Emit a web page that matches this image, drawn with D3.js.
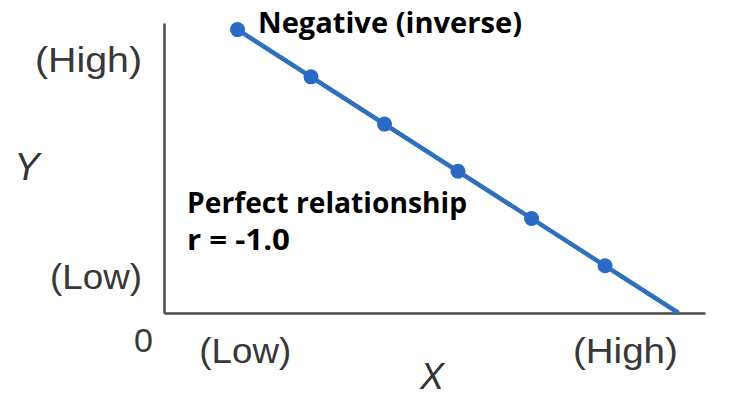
<!DOCTYPE html>
<html>
<head>
<meta charset="utf-8">
<script src="https://cdn.jsdelivr.net/npm/d3@7"></script>
<style>
  html, body { margin: 0; padding: 0; background: #fff; }
  svg { display: block; }
</style>
</head>
<body>
<div id="chart"></div>
<script>
// ---- data ----
const xValues = [1, 2, 3, 4, 5, 6];
const yValues = [6, 5, 4, 3, 2, 1];
const lineX = [1, 7];
const lineY = [6, 0];
const xTickValues = [1.1, 6.27];
const xTickLabels = ["(Low)", "(High)"];
const yTickValues = [0.78, 5.36];
const yTickLabels = ["(Low)", "(High)"];
const originLabel = "0";
const xAxisTitle = "X";
const yAxisTitle = "Y";
const titleText = "Negative (inverse)";
const noteLines = ["Perfect relationship", "r = -1.0"];

// ---- layout ----
const W = 730, H = 398;
const svg = d3.select("#chart").append("svg").attr("width", W).attr("height", H);

const x = d3.scaleLinear().domain([0, 7.36]).range([164, 705]);
const y = d3.scaleLinear().domain([0, 6.14]).range([313, 23]);

const labelFont = "'Helvetica Neue', 'Liberation Sans', Arial, sans-serif";
const boldFont = "'Open Sans', 'Noto Sans', sans-serif";
const axisColor = "#4a4a4a";
const labelColor = "#383838";

// x axis
const gx = svg.append("g").attr("transform", `translate(0,${y(0)})`)
  .call(d3.axisBottom(x).tickValues(xTickValues)
    .tickFormat((d, i) => xTickLabels[i]).tickSize(0).tickSizeOuter(0));
gx.select(".domain").attr("stroke", axisColor).attr("stroke-width", 2.5);
gx.selectAll(".tick text")
  .attr("y", 50).attr("dy", 0)
  .attr("font-family", labelFont).attr("font-size", 35).attr("font-weight", 300)
  .attr("fill", labelColor)
  .attr("textLength", (d, i) => [92, 105][i]).attr("lengthAdjust", "spacingAndGlyphs");

// y axis
const gy = svg.append("g").attr("transform", `translate(${x(0)},0)`)
  .call(d3.axisLeft(y).tickValues(yTickValues)
    .tickFormat((d, i) => yTickLabels[i]).tickSize(0).tickSizeOuter(0));
gy.select(".domain").attr("stroke", axisColor).attr("stroke-width", 2.5);
gy.selectAll(".tick text")
  .attr("x", -22).attr("dy", 0).attr("y", 12)
  .attr("text-anchor", "end")
  .attr("font-family", labelFont).attr("font-size", 35).attr("font-weight", 300)
  .attr("fill", labelColor)
  .attr("textLength", (d, i) => [92, 107][i]).attr("lengthAdjust", "spacingAndGlyphs");

// origin label
svg.append("text").attr("x", x(0) - 11).attr("y", y(0) + 39)
  .attr("text-anchor", "end")
  .attr("font-family", labelFont).attr("font-size", 34).attr("font-weight", 300)
  .attr("fill", labelColor).text(originLabel);

// axis titles
svg.append("text").attr("x", 432).attr("y", 389).attr("text-anchor", "middle")
  .attr("font-family", labelFont).attr("font-size", 36).attr("font-style", "italic")
  .attr("font-weight", 300).attr("fill", "#333").text(xAxisTitle);
svg.append("text").attr("x", 27).attr("y", 180).attr("text-anchor", "middle")
  .attr("font-family", labelFont).attr("font-size", 38).attr("font-style", "italic")
  .attr("font-weight", 300).attr("fill", "#333").text(yAxisTitle);

// regression line
const lineData = lineX.map((v, i) => [v, lineY[i]]);
svg.append("path").datum(lineData)
  .attr("d", d3.line().x(d => x(d[0])).y(d => y(d[1])))
  .attr("fill", "none").attr("stroke", "#2f70bd").attr("stroke-width", 4.5);

// points
svg.selectAll("circle.pt").data(xValues.map((v, i) => [v, yValues[i]]))
  .join("circle").attr("class", "pt")
  .attr("cx", d => x(d[0])).attr("cy", d => y(d[1])).attr("r", 7.5)
  .attr("fill", "#2a69c6");

// titles
svg.append("text").attr("x", 258).attr("y", 33)
  .attr("font-family", boldFont).attr("font-size", 28).attr("font-weight", 700)
  .attr("fill", "#000").attr("textLength", 264).attr("lengthAdjust", "spacingAndGlyphs")
  .text(titleText);
svg.append("text").attr("x", 187).attr("y", 213)
  .attr("font-family", boldFont).attr("font-size", 28).attr("font-weight", 700)
  .attr("fill", "#000").attr("textLength", 280).attr("lengthAdjust", "spacingAndGlyphs")
  .text(noteLines[0]);
svg.append("text").attr("x", 187).attr("y", 250)
  .attr("font-family", boldFont).attr("font-size", 28).attr("font-weight", 700)
  .attr("fill", "#000").attr("textLength", 103).attr("lengthAdjust", "spacingAndGlyphs")
  .text(noteLines[1]);
</script>
</body>
</html>
